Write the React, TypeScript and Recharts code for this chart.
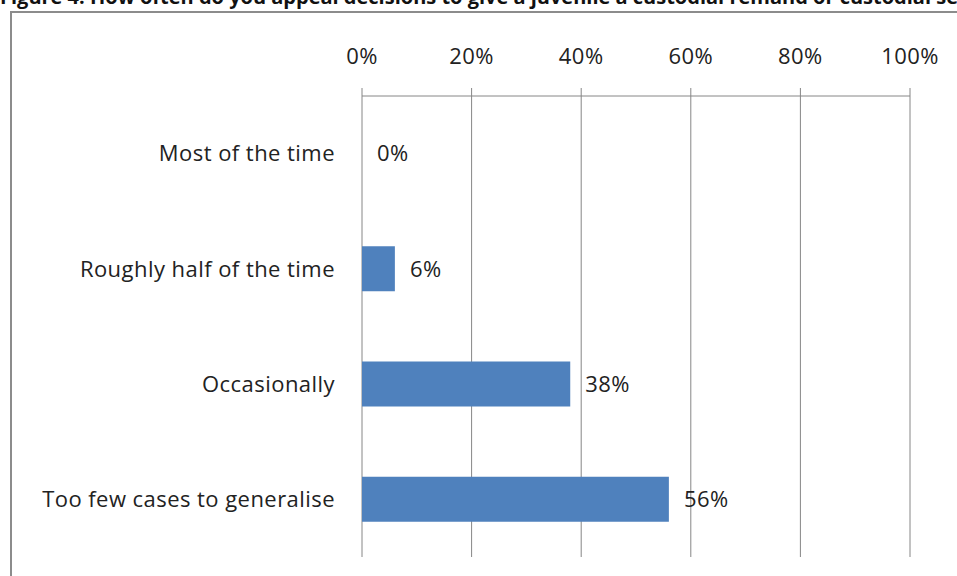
import React from 'react';
import {
  BarChart,
  Bar,
  XAxis,
  YAxis,
  CartesianGrid,
  LabelList,
  ReferenceDot,
} from 'recharts';

const CATEGORIES = [
  'Most of the time',
  'Roughly half of the time',
  'Occasionally',
  'Too few cases to generalise',
];
const SHARES = [0, 0.06, 0.38, 0.56];
const PCT_TICKS = [0, 0.2, 0.4, 0.6, 0.8, 1];
// boundaries between categories, used only for the tick marks on the left axis
const BAND_EDGES = [0, 1, 2, 3, 4];

const TITLE =
  'Figure 4: How often do you appeal decisions to give a juvenile a custodial remand or custodial sentence?';

const data = CATEGORIES.map((name, i) => ({ name, value: SHARES[i] }));

const FONT = '"Open Sans", Lato, sans-serif';
const GRID = '#868686';
const TEXT = '#222222';
const FRAME = '#8c8c8c';

const pct = (v: number) => `${Math.round(v * 100)}%`;

const labelStyle = { fill: TEXT, fontSize: 22, fontFamily: FONT, letterSpacing: 0.45 };

const App: React.FC = () => {
  return (
    <div
      style={{
        position: 'absolute',
        left: 0,
        top: 0,
        width: 957,
        height: 576,
        overflow: 'hidden',
        background: '#fff',
        fontFamily: FONT,
      }}
    >
      <div
        style={{
          position: 'absolute',
          left: 0,
          top: -15,
          whiteSpace: 'nowrap',
          fontWeight: 700,
          fontSize: 20,
          lineHeight: '24px',
          color: '#111',
        }}
      >
        {TITLE}
      </div>
      {/* frame of the chart area: only its top and left edges are in view */}
      <div style={{ position: 'absolute', left: 10, top: 11, width: 960, height: 2, background: FRAME }} />
      <div style={{ position: 'absolute', left: 10, top: 11, width: 2, height: 580, background: FRAME }} />
      <div style={{ position: 'absolute', left: 0, top: 0 }}>
        <BarChart
          width={957}
          height={576}
          data={data}
          layout="vertical"
          margin={{ top: 20, right: 47, bottom: 19, left: 0 }}
          barSize={45}
        >
          <CartesianGrid horizontal={false} stroke={GRID} strokeWidth={1} />
          <XAxis
            type="number"
            orientation="top"
            domain={[0, 1]}
            ticks={PCT_TICKS}
            tickFormatter={pct}
            height={76}
            axisLine={{ stroke: GRID }}
            tickLine={{ stroke: GRID }}
            tickSize={8}
            tickMargin={24}
            tick={labelStyle}
          />
          <YAxis
            yAxisId="edges"
            type="number"
            domain={[0, 4]}
            ticks={BAND_EDGES}
            width={0}
            tick={false}
            tickSize={9}
            axisLine={{ stroke: GRID }}
            tickLine={{ stroke: GRID }}
          />
          <YAxis
            yAxisId="cat"
            type="category"
            dataKey="name"
            width={362}
            axisLine={false}
            tickLine={false}
            tickSize={0}
            tickMargin={27}
            interval={0}
            tick={labelStyle}
          />
          <Bar yAxisId="cat" dataKey="value" fill="#4F81BD" isAnimationActive={false}>
            <LabelList
              dataKey="value"
              position="right"
              offset={15}
              formatter={(v: number) => pct(v)}
              style={labelStyle}
            />
          </Bar>
          {/* zero-length bars get no label from LabelList, so place those here */}
          {data
            .filter((d) => d.value === 0)
            .map((d) => (
              <ReferenceDot
                key={d.name}
                yAxisId="cat"
                x={d.value}
                y={d.name}
                r={0}
                fill="none"
                stroke="none"
                label={{ value: pct(d.value), position: 'right', offset: 15, ...labelStyle }}
              />
            ))}
        </BarChart>
      </div>
    </div>
  );
};

export default App;
